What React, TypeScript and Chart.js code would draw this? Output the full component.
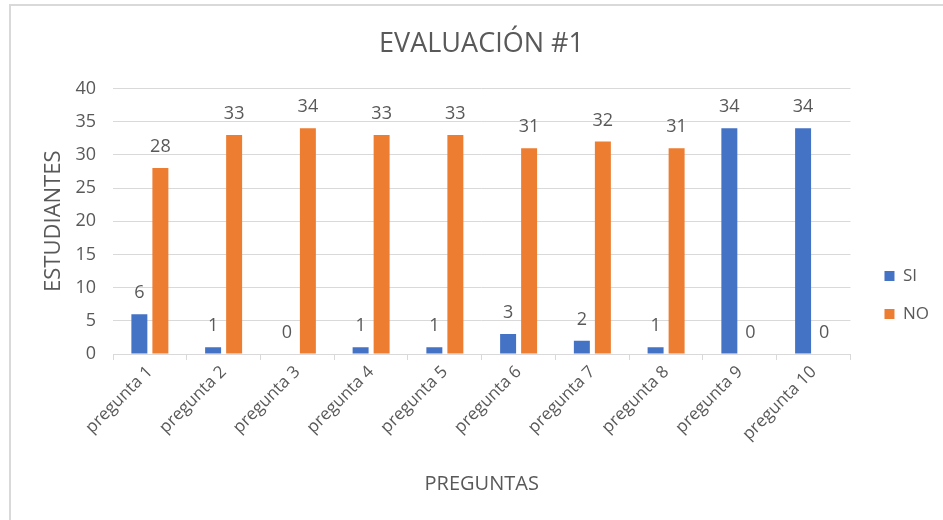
import React, { useEffect, useRef } from "react";
import { Chart, registerables } from "chart.js";

Chart.register(...registerables);

const categories = [
  "pregunta 1", "pregunta 2", "pregunta 3", "pregunta 4", "pregunta 5",
  "pregunta 6", "pregunta 7", "pregunta 8", "pregunta 9", "pregunta 10",
];
const siValues = [6, 1, 0, 1, 1, 3, 2, 1, 34, 34];
const noValues = [28, 33, 34, 33, 33, 31, 32, 31, 0, 0];
const seriesNames = ["SI", "NO"];
const titleText = "EVALUACIÓN #1";
const xTitle = "PREGUNTAS";
const yTitle = "ESTUDIANTES";

const TEXT = "#595959";
const GRID = "#d9d9d9";
const FONT = "'Open Sans', 'Noto Sans', sans-serif";

const valueLabels = {
  id: "valueLabels",
  afterDatasetsDraw(chart: any) {
    const ctx = chart.ctx;
    ctx.save();
    ctx.font = `18px ${FONT}`;
    ctx.fillStyle = TEXT;
    ctx.textAlign = "center";
    ctx.textBaseline = "bottom";
    chart.data.datasets.forEach((ds: any, di: number) => {
      const meta = chart.getDatasetMeta(di);
      meta.data.forEach((bar: any, i: number) => {
        ctx.fillText(String(ds.data[i]), bar.x, bar.y - 12);
      });
    });
    ctx.restore();
  },
};

const legendNudge = {
  id: "legendNudge",
  afterLayout(chart: any) {
    const lg = chart.legend;
    if (!lg) return;
    const dx = 13, dy = 34;
    lg.left += dx; lg.right += dx; lg.top += dy; lg.bottom += dy;
  },
};

export default function App() {
  const ref = useRef<HTMLCanvasElement>(null);
  useEffect(() => {
    const chart = new Chart(ref.current!, {
      type: "bar",
      data: {
        labels: categories,
        datasets: [
          { label: seriesNames[0], data: siValues, backgroundColor: "#4472C4", categoryPercentage: 0.57, barPercentage: 0.76 },
          { label: seriesNames[1], data: noValues, backgroundColor: "#ED7D31", categoryPercentage: 0.57, barPercentage: 0.76 },
        ],
      },
      options: {
        animation: false,
        responsive: false,
        maintainAspectRatio: false,
        layout: { padding: { left: 37, top: 22, right: 17, bottom: 20 } },
        plugins: {
          title: {
            display: true,
            text: titleText,
            color: TEXT,
            font: { family: FONT, size: 27, weight: "normal" },
            padding: { top: 6, bottom: 28 },
          },
          legend: {
            position: "right",
            labels: {
              boxWidth: 10,
              boxHeight: 10,
              color: TEXT,
              font: { family: FONT, size: 17 },
              padding: 21,
            },
          },
          tooltip: { enabled: false },
        },
        scales: {
          x: {
            grid: { offset: true, drawOnChartArea: false, color: GRID, tickLength: 6 },
            border: { display: true, color: GRID },
            ticks: { color: TEXT, font: { family: FONT, size: 17 }, minRotation: 45, maxRotation: 45, padding: 2 },
            title: { display: true, text: xTitle, color: TEXT, font: { family: FONT, size: 20 }, padding: { top: 8, bottom: 4 } },
            afterFit(scale: any) { scale.height = 146; },
          },
          y: {
            min: 0,
            max: 40,
            ticks: { stepSize: 5, color: TEXT, font: { family: FONT, size: 18 }, padding: 17 },
            grid: { color: GRID, drawTicks: false },
            border: { display: false },
            title: { display: true, text: yTitle, color: TEXT, font: { family: FONT, size: 22 }, padding: { top: 4, bottom: 4 } },
            afterFit(scale: any) { scale.width = 76; },
          },
        },
      },
      plugins: [valueLabels, legendNudge],
    } as any);
    return () => chart.destroy();
  }, []);
  return (
    <div style={{ position: "fixed", left: 0, top: 0, width: 943, height: 520, background: "#fff" }}>
      <div style={{ position: "absolute", left: 9, top: 4, right: -2, bottom: -2, border: "2px solid #d9d9d9" }} />
      <canvas ref={ref} width={943} height={520} style={{ position: "absolute", left: 0, top: 0 }} />
    </div>
  );
}
